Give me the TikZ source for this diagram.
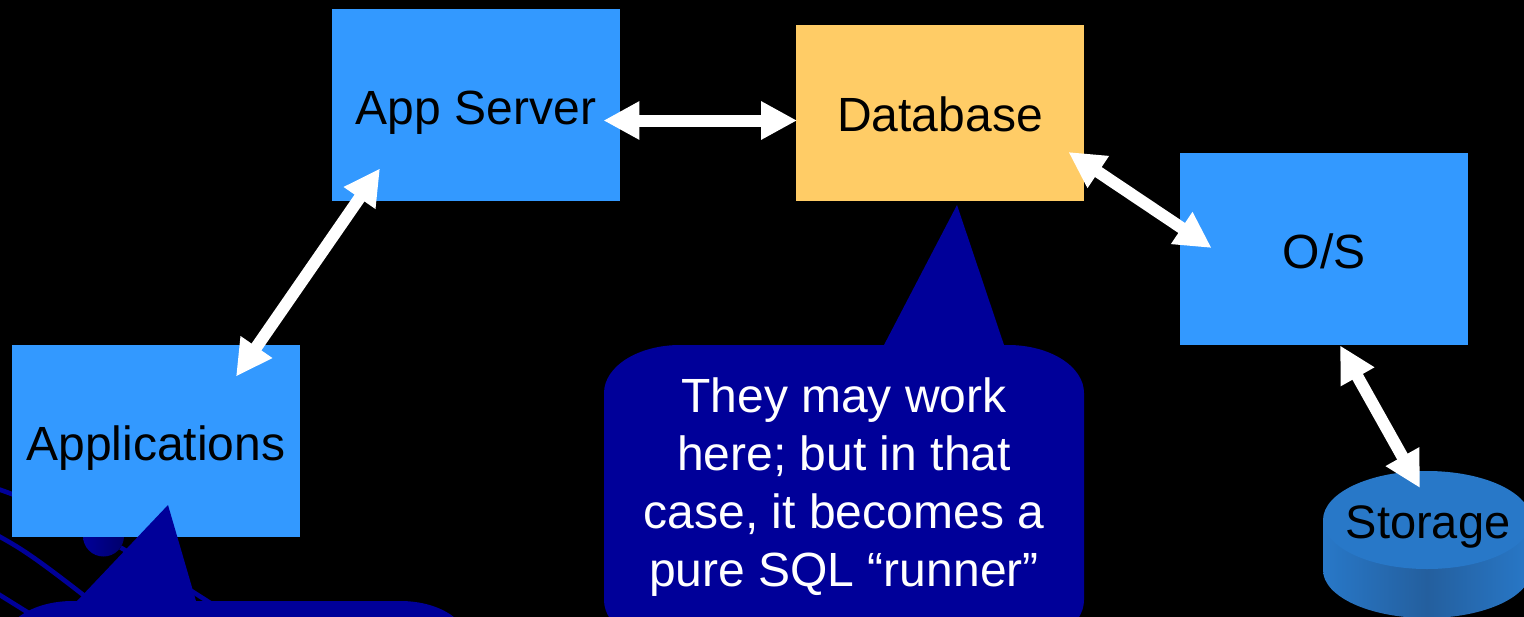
\documentclass[tikz,border=0pt]{standalone}
\usepackage{fontspec}
\setmainfont{Liberation Sans}
\usetikzlibrary{arrows.meta}
\definecolor{boxblue}{HTML}{3399FF}
\definecolor{boxorange}{HTML}{FFCC66}
\definecolor{calloutblue}{HTML}{000099}
\definecolor{calloutdark}{HTML}{00006B}
\definecolor{disktop}{HTML}{2878C8}
\definecolor{diskdark}{HTML}{245F9E}
\tikzset{
  bluebox/.style={fill=boxblue,inner sep=0pt,minimum width=144pt,text=black,text height=19.5pt,text depth=0pt,font=\fontsize{24}{29}\selectfont},
  orangebox/.style={fill=boxorange,inner sep=0pt,minimum width=144pt,text=black,text height=18.5pt,text depth=0pt,font=\fontsize{24}{29}\selectfont},
  callouttext/.style={text=white,align=center,inner sep=0pt,font=\fontsize{24}{29}\selectfont},
  disklabel/.style={text=black,inner sep=0pt,font=\fontsize{23.5}{28}\selectfont},
  biarrow/.style={draw=white,line width=6pt,{Triangle[length=18pt,width=18pt]}-{Triangle[length=18pt,width=18pt]}},
  bgline/.style={draw=calloutblue,line width=2.3pt},
  calloutfill/.style={fill=calloutblue}
}
\begin{document}
\begin{tikzpicture}[x=0.5pt,y=-0.5pt]
\clip (0,0) rectangle (1524,616.3);
\fill[black] (0,0) rectangle (1524,617);
% background decoration
\draw[bgline] (-5,488) .. controls (60,510) and (120,545) .. (215,606);
\draw[bgline] (-5,534) .. controls (20,548) and (30,553) .. (100,608);
\draw[bgline] (-5,592) -- (40,620);
\fill[left color=calloutblue,right color=calloutdark] (103.5,536) circle [radius=20.5];
% boxes
\node[bluebox,minimum height=96pt] (app) at (476,105) {App Server};
\node[orangebox,minimum height=88pt] (db) at (940,113) {Database};
\node[bluebox,minimum height=96pt] (os) at (1324,249) {O/S};
\node[bluebox,minimum height=96pt] (apps) at (156,441) {Applications};
% storage
\fill[left color=disktop,right color=disktop,middle color=diskdark]
  (1323,520) -- (1323,570) .. controls (1323,596.5) and (1369.5,618) .. (1427,618)
  .. controls (1484.5,618) and (1531,596.5) .. (1531,570) -- (1531,520) -- cycle;
\fill[disktop] (1427,520) ellipse [x radius=104,y radius=49];
\node[disklabel] (storage) at (1428,527) {Storage};
% callouts
\fill[calloutfill] (604,393) .. controls (604,366.5) and (638,345) .. (680,345)
  -- (884,345) -- (957,205) -- (1004,345) -- (1008,345)
  .. controls (1050,345) and (1084,366.5) .. (1084,393)
  -- (1084,600) .. controls (1084,626.5) and (1050,648) .. (1008,648)
  -- (680,648) .. controls (638,648) and (604,626.5) .. (604,600) -- cycle;
\node[callouttext] (dbnote) at (844,487) {They may work\\here; but in that\\case, it becomes a\\pure SQL “runner”};
\fill[calloutfill] (1,649) .. controls (1,622.5) and (31,601) .. (73,601)
  -- (77,601) -- (168,505) -- (196,601) -- (400,601)
  .. controls (442,601) and (471,622.5) .. (471,649) -- cycle;
% connectors
\draw[biarrow] ([shift={(-17,15.5)}]app.east) -- ([shift={(1.5,7.5)}]db.west);
\draw[biarrow] ([shift={(-96,-33)}]app.south) -- ([shift={(80,32)}]apps.north);
\draw[biarrow] ([shift={(-16,39)}]db.east) -- ([shift={(32,-1)}]os.west);
\draw[biarrow] ([shift={(16,0)}]os.south) -- ([shift={(-8,-39)}]storage.center);
\end{tikzpicture}
\end{document}
